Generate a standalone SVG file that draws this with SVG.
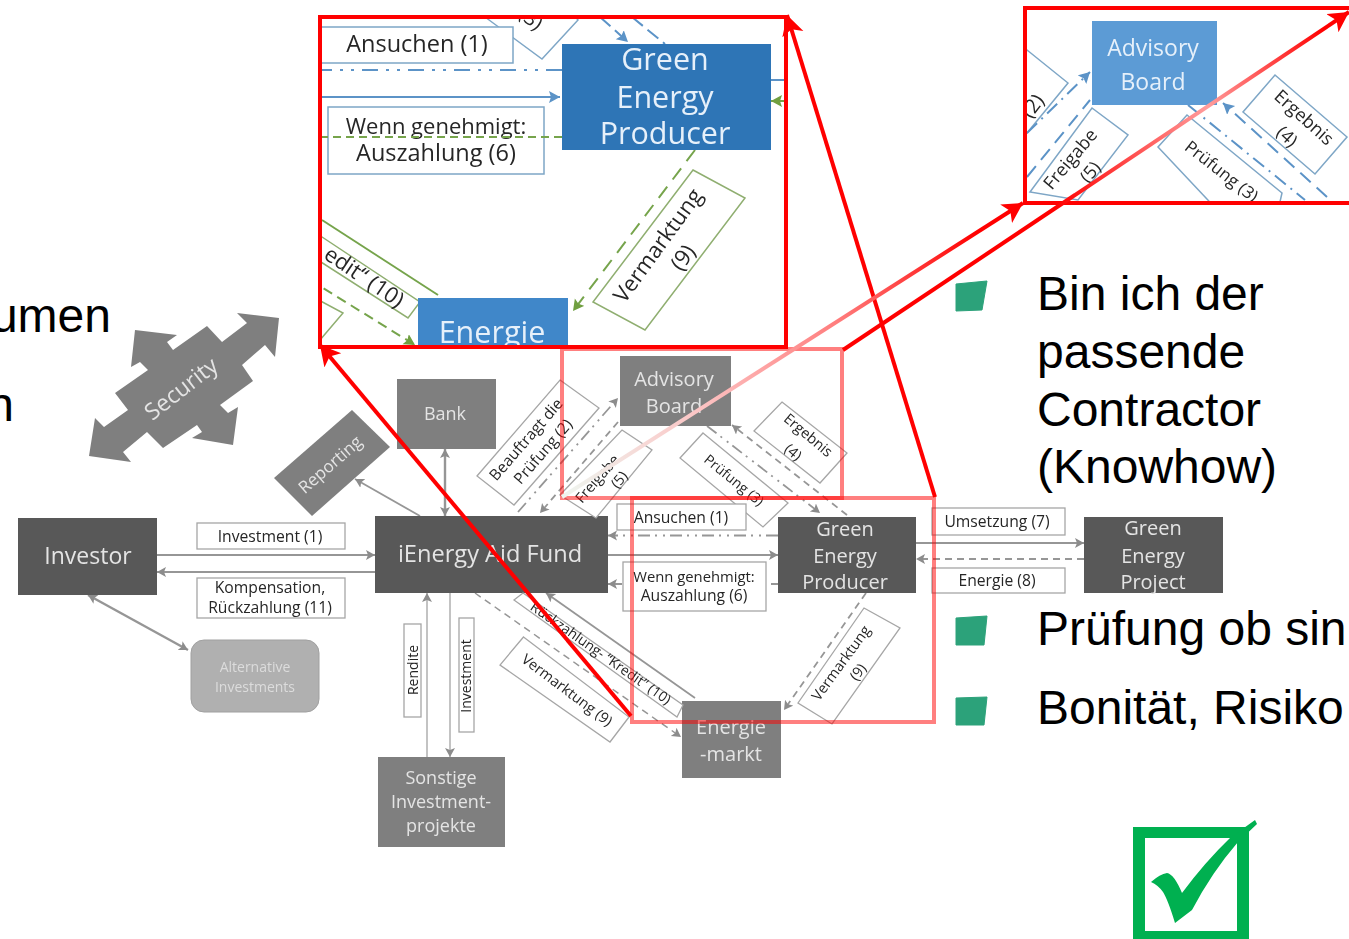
<svg xmlns="http://www.w3.org/2000/svg" width="1349" height="939" viewBox="0 0 1349 939">
<style>
text{font-family:"Open Sans","DejaVu Sans",sans-serif;text-anchor:middle}
.big{font-family:"Liberation Sans",Arial,sans-serif;font-size:48px;fill:#000;text-anchor:start}
.d{fill:#595959}.m{fill:#7f7f7f}
.wt{fill:#e4e4e4}
.lb{fill:#fff;stroke:#a6a6a6;stroke-width:1.3}
.lt{fill:#262626;font-size:14.5px}
.h{font-size:15.7px}
.c{fill:none;stroke:#969696;stroke-width:1.8}
.ds{stroke-dasharray:7 5}
.dd{stroke-dasharray:12 5 2 6 2 5}
.ga{marker-end:url(#ag)}
.bl{fill:none;stroke:#5b93c7;stroke-width:2}
.gr{fill:none;stroke:#76a44c;stroke-width:2}
.blb{fill:#fff;stroke:#7ea6c6;stroke-width:1.5}
.glb{fill:#fff;stroke:#8fae70;stroke-width:1.5}
.it{fill:#262626;font-size:23.500px}
.pk{fill:none;stroke:#ff0000;stroke-opacity:.5;stroke-width:4}
.rd{fill:none;stroke:#ff0000;stroke-width:4}
.bu{fill:#2ca27a;stroke:#2ca27a;stroke-width:1;stroke-linejoin:round}
</style>
<defs>
<filter id="soft" x="-5%" y="-5%" width="110%" height="110%"><feGaussianBlur stdDeviation="0.45"/></filter>
<filter id="soft2" x="-5%" y="-5%" width="110%" height="110%"><feGaussianBlur stdDeviation="0.6"/></filter>
<marker id="ag" markerUnits="userSpaceOnUse" markerWidth="12" markerHeight="12" refX="9" refY="5" orient="auto"><path d="M0 0L9 5L0 10L2 5Z" fill="#8c8c8c"/></marker>
<marker id="ags" markerUnits="userSpaceOnUse" markerWidth="12" markerHeight="12" refX="1" refY="5" orient="auto"><path d="M10 0L1 5L10 10L8 5Z" fill="#8c8c8c"/></marker>
<marker id="ab" markerUnits="userSpaceOnUse" markerWidth="14" markerHeight="14" refX="11" refY="6" orient="auto"><path d="M0 0L11 6L0 12L2 6Z" fill="#5b93c7"/></marker>
<marker id="agn" markerUnits="userSpaceOnUse" markerWidth="14" markerHeight="14" refX="11" refY="6" orient="auto"><path d="M0 0L11 6L0 12L2 6Z" fill="#6f9f40"/></marker>
<marker id="ar" markerUnits="userSpaceOnUse" markerWidth="26" markerHeight="26" refX="20" refY="11" orient="auto"><path d="M0 0L20 11L0 22L5 11Z" fill="#ff0000"/></marker>
<linearGradient id="gA" gradientUnits="userSpaceOnUse" x1="562" y1="497" x2="1023" y2="203"><stop offset="0" stop-color="#eef6f0"/><stop offset=".3" stop-color="#fcc4c4"/><stop offset=".6" stop-color="#ff7c7c"/><stop offset=".9" stop-color="#ff0000"/></linearGradient>
<linearGradient id="gB" gradientUnits="userSpaceOnUse" x1="843" y1="350" x2="1349" y2="12"><stop offset="0" stop-color="#ff0000"/><stop offset=".42" stop-color="#ff0000"/><stop offset=".72" stop-color="#ff9c9c"/><stop offset=".95" stop-color="#ff0000"/></linearGradient>
<clipPath id="c1"><rect x="320" y="19" width="464" height="326"/></clipPath>
<clipPath id="c2"><rect x="1025" y="10" width="324" height="191"/></clipPath>
</defs>
<rect width="1349" height="939" fill="#fff"/>

<g id="slide-text">
<text class="big" style="text-anchor:end" x="111" y="332">umen</text>
<text class="big" style="text-anchor:end" x="14" y="421">n</text>
<text class="big" x="1037" y="310">Bin ich der</text>
<text class="big" x="1037" y="368">passende</text>
<text class="big" x="1037" y="426">Contractor</text>
<text class="big" x="1037" y="483">(Knowhow)</text>
<text class="big" x="1037" y="645">Prüfung ob sin</text>
<text class="big" x="1037" y="724">Bonität, Risiko</text>
<path class="bu" d="M956 284L987 281L982 310L956 311Z"/>
<path class="bu" d="M956 618L987 616L984 645L956 645Z"/>
<path class="bu" d="M956 698L987 697L984 725L956 725Z"/>
</g>

<g id="check">
<path fill="#00b050" fill-rule="evenodd" d="M1133 827H1249V939H1133ZM1145 838V931H1237V838Z"/>
<path fill="#00b050" d="M1151 882Q1160 874 1167 873Q1174 874 1182 893Q1205 862 1230 838L1255 820L1257 824L1238 842Q1212 872 1192 910L1175 923Q1168 900 1163 892Q1158 885 1151 882Z"/>
</g>

<g id="diagram" filter="url(#soft)">
<g id="connectors">
<path class="c ga" d="M157 555H375"/>
<path class="c ga" d="M375 572H157"/>
<path class="c ga" style="marker-start:url(#ags);stroke-width:2.4" d="M88 595L188 650"/>
<path class="c ga" d="M420 516L355 479"/>
<path class="c ga" style="marker-start:url(#ags);stroke-width:2.4" d="M445 449V516"/>
<path class="c ga dd" d="M518 512L618 398"/>
<path class="c ga ds" d="M618 422L540 513"/>
<path class="c ga dd" d="M707 426L820 513"/>
<path class="c ga ds" d="M847 515L732 425"/>
<path class="c ga dd" d="M778 535.500H608"/>
<path class="c ga" d="M608 555H778"/>
<path class="c ga ds" d="M778 584H608"/>
<path class="c ga" d="M916 543H1084"/>
<path class="c ga ds" d="M1084 559H916"/>
<path class="c ga" style="stroke:#bdbdbd" d="M427 757V593"/>
<path class="c ga" style="stroke:#bdbdbd" d="M450 593V757"/>
<path class="c ga ds" style="stroke-width:1.5" d="M475 593L681 737"/>
<path class="c ga" d="M695 698L546 593"/>
<path class="c ga ds" d="M866 593L784 710"/>
</g>

<g id="security"><polygon class="m" points="279,318 275,357 265,345 242,365 253,381 220,405 228,413 238,407 233,445 192,438 202,432 197,425 163,448 147,432 123,452 131,462 89,456 95,418 104,427 128,410 115,393 148,370 140,362 131,367 135,330 177,335 167,342 173,350 207,326 222,342 247,323 237,313"/><text class="wt" font-size="23" transform="translate(186 395) rotate(-38)">Security</text></g>
<g id="reporting"><polygon class="m" points="352,410 390,447 312,516 274,478"/><text class="wt" font-size="17" transform="translate(334 469) rotate(-41)">Reporting</text></g>
<g id="investor"><rect class="d" x="18" y="518" width="139" height="77"/><text class="wt" font-size="23" x="88" y="564">Investor</text></g>
<g id="alternative"><rect x="191" y="640" width="128" height="72" rx="13" fill="#b0b0b0" stroke="#a0a0a0"/><text fill="#dcdcdc" font-size="14" x="255" y="672">Alternative</text><text fill="#dcdcdc" font-size="14" x="255" y="692">Investments</text></g>
<g id="bank"><rect class="m" x="397" y="379" width="99" height="70"/><text class="wt" font-size="18" x="445" y="420">Bank</text></g>
<g id="fund"><rect class="d" x="375" y="516" width="233" height="77"/><text class="wt" font-size="23.600" x="490" y="562">iEnergy Aid Fund</text></g>
<g id="advisory"><rect class="m" x="620" y="356" width="111" height="70"/><text class="wt" font-size="20" x="674" y="386">Advisory</text><text class="wt" font-size="20" x="674" y="413">Board</text></g>
<g id="producer"><rect class="d" x="778" y="517" width="138" height="76"/><text class="wt" font-size="20" x="845" y="536">Green</text><text class="wt" font-size="20" x="845" y="563">Energy</text><text class="wt" font-size="20" x="845" y="589">Producer</text></g>
<g id="project"><rect class="d" x="1084" y="517" width="139" height="76"/><text class="wt" font-size="20" x="1153" y="535">Green</text><text class="wt" font-size="20" x="1153" y="563">Energy</text><text class="wt" font-size="20" x="1153" y="589">Project</text></g>
<g id="markt"><rect class="m" x="682" y="701" width="99" height="77"/><text class="wt" font-size="20" x="731" y="734">Energie</text><text class="wt" font-size="20" x="731" y="761">-markt</text></g>
<g id="sonstige"><rect class="m" x="378" y="757" width="127" height="90"/><text class="wt" font-size="18" x="441" y="784">Sonstige</text><text class="wt" font-size="18" x="441" y="808">Investment-</text><text class="wt" font-size="18" x="441" y="832">projekte</text></g>

<g id="labels">
<g><rect class="lb" x="197" y="523" width="148" height="26"/><text class="lt h" x="270" y="542">Investment (1)</text></g>
<g><rect class="lb" x="197" y="578" width="148" height="40"/><text class="lt h" x="270" y="593">Kompensation,</text><text class="lt h" x="270" y="613">Rückzahlung (11)</text></g>
<g><polygon class="lb" points="560,380 599,408 514,505 477,476"/><text class="lt" style="font-size:15.500px" transform="translate(530 443) rotate(-49)">Beauftragt die</text><text class="lt" style="font-size:15.500px" transform="translate(547 455) rotate(-49)">Prüfung (2)</text></g>
<g><polygon class="lb" points="622,430 652,450 596,518 560,495"/><text class="lt" transform="translate(601 482) rotate(-49)">Freigabe</text><text class="lt" transform="translate(623 483) rotate(-49)">(5)</text></g>
<g><polygon class="lb" points="703,433 788,503 763,527 680,458"/><text class="lt" style="font-size:14px" transform="translate(731 484) rotate(39)">Prüfung (3)</text></g>
<g><polygon class="lb" points="782,402 847,453 820,483 754,431"/><text class="lt" transform="translate(805 439) rotate(40)">Ergebnis</text><text class="lt" transform="translate(790 456) rotate(40)">(4)</text></g>
<g><rect class="lb" x="617" y="504" width="129" height="26"/><text class="lt h" x="681" y="523">Ansuchen (1)</text></g>
<g><rect class="lb" x="623" y="562" width="143" height="49"/><text class="lt" style="font-size:14.800px" x="694" y="582">Wenn genehmigt:</text><text class="lt h" x="694" y="601">Auszahlung (6)</text></g>
<g><rect class="lb" x="932" y="508" width="133" height="27"/><text class="lt h" x="997" y="527">Umsetzung (7)</text></g>
<g><rect class="lb" x="932" y="568" width="133" height="25"/><text class="lt h" x="997" y="586">Energie (8)</text></g>
<g><rect class="lb" x="404" y="624" width="17" height="93"/><text class="lt" style="font-size:14px" transform="translate(418 670) rotate(-90)">Rendite</text></g>
<g><rect class="lb" x="459" y="618" width="15" height="114"/><text class="lt" style="font-size:14px" transform="translate(471 676) rotate(-90)">Investment</text></g>
<g><polygon class="lb" points="523,593 683,705 677,717 514,600"/><text class="lt" style="font-size:14px" transform="translate(598 657) rotate(35)">Rückzahlung- “Kredit” (10)</text></g>
<g><polygon class="lb" points="523.500,637 629,717 610,742 500,665"/><text class="lt" transform="translate(564 694) rotate(37)">Vermarktung (9)</text></g>
<g><polygon class="lb" points="864,608 900,628 832,724 798,703"/><text class="lt" transform="translate(845 666) rotate(-54)">Vermarktung</text><text class="lt" transform="translate(862 675) rotate(-54)">(9)</text></g>
</g>
</g>

<g id="zoom-frames">
<rect class="pk" x="562" y="349" width="280" height="149"/>
<rect class="pk" x="632" y="498" width="302" height="224"/>
</g>

<g id="inset-producer">
<rect x="318" y="17" width="468" height="330" fill="#fff"/>
<g clip-path="url(#c1)"><g filter="url(#soft2)">
<polygon class="blb" points="485,17 542,59 578,20 570,10 490,10"/>
<text class="it" style="font-size:20px" transform="translate(527 24) rotate(38)">(3)</text>
<path class="bl" d="M600 17L628 42" marker-end="url(#ab)" stroke-dasharray="14 6"/>
<path class="bl" d="M632 17L665 44" stroke-dasharray="14 6"/>
<rect class="blb" x="300" y="27" width="213" height="36"/>
<text class="it" x="417" y="52">Ansuchen (1)</text>
<path class="bl" d="M562 70H320" stroke-dasharray="16 8 3 8 3 8"/>
<path class="bl" d="M320 97H560" marker-end="url(#ab)"/>
<rect class="blb" x="328" y="107" width="216" height="67"/>
<text class="it" style="font-size:22px" x="436" y="134">Wenn genehmigt:</text>
<text class="it" x="436" y="161">Auszahlung (6)</text>
<path class="gr" d="M320 137H562" stroke-dasharray="8 5"/>
<path class="bl" d="M771 80H786"/>
<path class="gr" d="M786 101H771" marker-end="url(#agn)"/>
<path class="gr" d="M695 150L573 311" stroke-dasharray="14 9" marker-end="url(#agn)"/>
<polygon class="glb" points="693,170 745,198 645,330 593,302"/>
<text class="it" style="font-size:22px" transform="translate(664 250) rotate(-54)">Vermarktung</text>
<text class="it" style="font-size:22px" transform="translate(689 262) rotate(-54)">(9)</text>
<path class="gr" d="M322 220L438 295"/>
<polygon class="glb" points="310,229 420,302 408,318 310,255"/>
<text class="it" style="font-size:22px" transform="translate(360 283) rotate(34)">edit“ (10)</text>
<path class="gr" d="M310 280L415 345" stroke-dasharray="10 6" marker-end="url(#agn)"/>
<polygon class="glb" points="300,290 343,313 320,340"/>
<rect x="418" y="298" width="150" height="60" fill="#3f87c9"/>
<text fill="#e6f0fa" font-size="30.500" x="492" y="343">Energie</text>
<rect x="562" y="44" width="209" height="106" fill="#2e75b6"/>
<text fill="#e6f0fa" font-size="30.500" x="665" y="70">Green</text>
<text fill="#e6f0fa" font-size="30.500" x="665" y="108">Energy</text>
<text fill="#e6f0fa" font-size="30.500" x="665" y="144">Producer</text>
</g></g>
<rect class="rd" x="320" y="17" width="466" height="330"/>
</g>

<g id="inset-advisory">
<rect x="1023" y="8" width="326" height="195" fill="#fff"/>
<g clip-path="url(#c2)"><g filter="url(#soft2)">
<polygon class="blb" points="1027,50 1068,83 1027,133 1000,100"/>
<text class="it" style="font-size:20px" transform="translate(1038 110) rotate(-52)">(2)</text>
<path class="bl" d="M1027 133L1090 72" marker-end="url(#ab)" stroke-dasharray="14 6 2 6"/>
<path class="bl" d="M1027 177L1090 100" stroke-dasharray="14 8"/>
<polygon class="blb" points="1092,108 1128,135 1078,200 1030,192"/>
<text class="it" style="font-size:18px" transform="translate(1075 163) rotate(-50)">Freigabe</text>
<text class="it" style="font-size:18px" transform="translate(1095 176) rotate(-50)">(5)</text>
<path class="bl" d="M1188 105L1305 200" stroke-dasharray="14 6 2 6"/>
<path class="bl" d="M1327 197L1223 103" marker-end="url(#ab)" stroke-dasharray="14 8"/>
<polygon class="blb" points="1187,115 1282,193 1277,215 1222,215 1158,147"/>
<text class="it" style="font-size:17px" transform="translate(1218 176) rotate(38)">Prüfung (3)</text>
<polygon class="blb" points="1275,75 1347,137 1315,174 1243,112"/>
<text class="it" style="font-size:18px" transform="translate(1300 122) rotate(42)">Ergebnis</text>
<text class="it" style="font-size:18px" transform="translate(1283 141) rotate(42)">(4)</text>
<rect x="1092" y="21" width="125" height="84" fill="#5b9bd5"/>
<text fill="#e6f0fa" font-size="23" x="1153" y="56">Advisory</text>
<text fill="#e6f0fa" font-size="23" x="1153" y="90">Board</text>
</g></g>
<rect class="rd" x="1025" y="8" width="330" height="195"/>
</g>

<g id="zoom-arrows">
<path class="rd" d="M935 497L787 15" marker-end="url(#ar)"/>
<path class="rd" d="M631 716L320 345" marker-end="url(#ar)"/>
<path class="rd" style="stroke:url(#gA)" d="M562 497L1023 203" marker-end="url(#ar)"/>
<path class="rd" style="stroke:url(#gB)" d="M843 350L1349 12" marker-end="url(#ar)"/>
</g>
</svg>
